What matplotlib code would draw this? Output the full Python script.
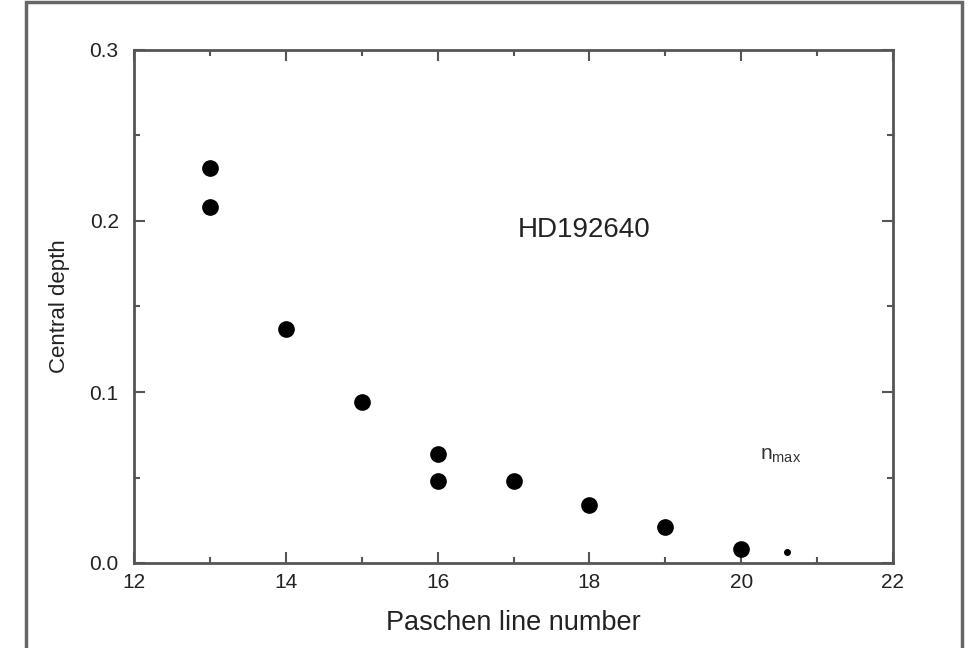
import matplotlib
matplotlib.use('Agg')
from matplotlib import pyplot as plt
from matplotlib.ticker import MultipleLocator, FormatStrFormatter
from matplotlib.patches import Rectangle
import numpy as np

plt.rcParams['font.family'] = ['Liberation Sans', 'DejaVu Sans']

# Paschen line data
line_number = [13, 13, 14, 15, 16, 16, 17, 18, 19, 20]
central_depth = [0.231, 0.208, 0.137, 0.094, 0.064, 0.048, 0.048, 0.034, 0.021, 0.008]
# n_max point (smaller marker)
nmax_x = [20.6]
nmax_y = [0.0065]

fig = plt.figure(figsize=[9.68, 6.48], dpi=100)
ax = fig.add_axes([134/968, 1-563/648, (893-134)/968, (563-50)/648])

ax.plot(line_number, central_depth, 'o', color='black', ms=11, mec='black')
ax.plot(nmax_x, nmax_y, 'o', color='black', ms=4)

ax.set_xlim(12, 22)
ax.set_ylim(0, 0.3)
ax.xaxis.set_major_locator(MultipleLocator(2))
ax.xaxis.set_minor_locator(MultipleLocator(1))
ax.yaxis.set_major_locator(MultipleLocator(0.1))
ax.yaxis.set_minor_locator(MultipleLocator(0.05))
ax.yaxis.set_major_formatter(FormatStrFormatter('%.1f'))

axis_col = '#555555'
for s in ax.spines.values():
    s.set_color(axis_col)
    s.set_linewidth(2)
ax.tick_params(which='both', direction='in', top=True, right=True, color=axis_col,
               labelsize=15, labelcolor='#222222')
ax.tick_params(which='major', length=8, width=1.5)
ax.tick_params(which='minor', length=4, width=1.5)
ax.tick_params(axis='x', pad=7)
ax.tick_params(axis='y', pad=11)

ax.set_xlabel('Paschen line number', fontsize=19.5, color='#222222', labelpad=13)
ax.set_ylabel('Central depth', fontsize=16, color='#222222', labelpad=14)

ax.text(17.05, 0.195, 'HD192640', fontsize=20, va='center', ha='left', color='#222222')
ax.text(20.25, 0.063, r'n$_{\mathregular{max}}$', fontsize=15, va='center', ha='left', color='#333333')

# outer frame
fig.add_artist(Rectangle((26/968, -0.05), (962-26)/968, 1.05 - 1.5/648, transform=fig.transFigure,
                         fill=False, edgecolor='#666666', linewidth=2.5))

fig.savefig('out.png', dpi=100)
